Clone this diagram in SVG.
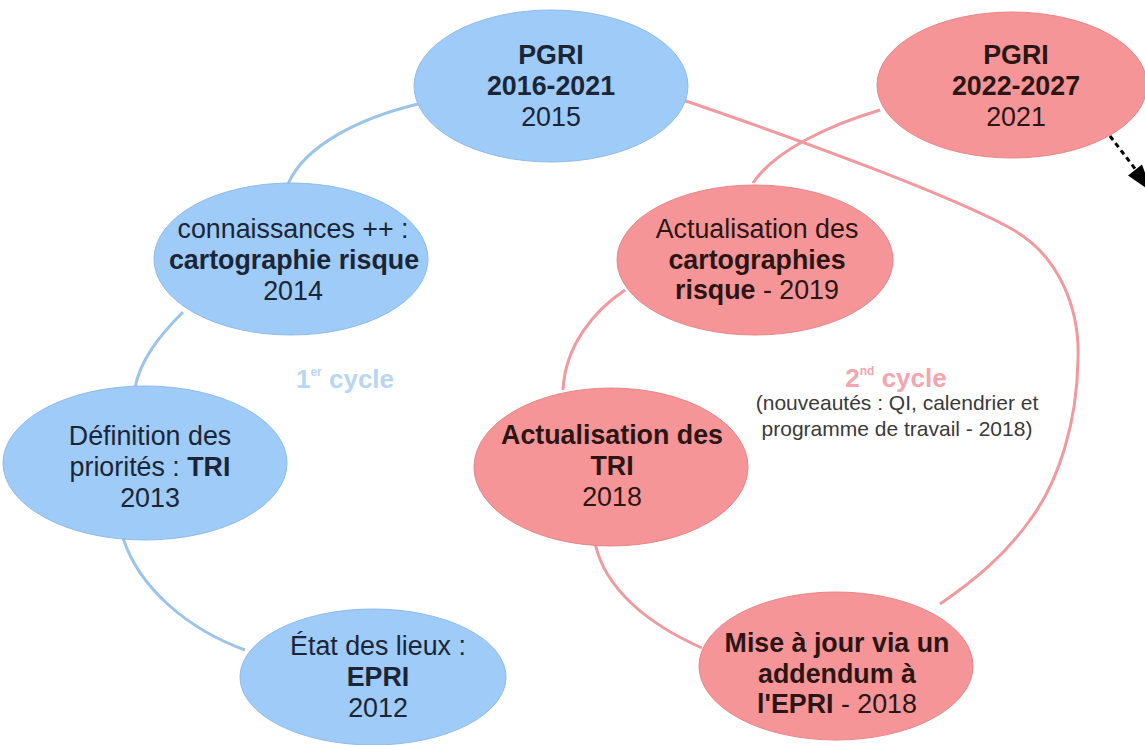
<svg xmlns="http://www.w3.org/2000/svg" width="1145" height="745" viewBox="0 0 1145 745">
<style>
  .blue { fill: #9ecbf8; stroke: #8fbbe8; stroke-width: 1; }
  .red { fill: #f59597; stroke: #e88588; stroke-width: 1; }
  text { font-family: "Liberation Sans", Arial, sans-serif; font-size: 26.8px; text-anchor: middle; }
  .tb { fill: #1b2535; }
  .tr { fill: #2b1515; }
  .b { font-weight: bold; }
  .cb { stroke: #9cc3ea; stroke-width: 3; fill: none; }
  .cr { stroke: #f09aa0; stroke-width: 3; fill: none; }
  .cycle1 { fill: #b8d6f2; font-weight: bold; font-size: 26px; }
  .cycle2 { fill: #f3a6ad; font-weight: bold; font-size: 26px; }
  .note { fill: #3a3a3a; font-size: 21px; }
</style>
<defs>
  <marker id="arr" viewBox="0 0 10 10" refX="9" refY="5" markerWidth="9" markerHeight="9" markerUnits="userSpaceOnUse" orient="auto">
    <path d="M0,0 L10,5 L0,10 z" fill="#000"/>
  </marker>
</defs>
<rect width="1145" height="745" fill="#fff"/>

<g id="connectors">
  <path class="cb" d="M288,184 C305,145 360,118 418,104"/>
  <path class="cb" d="M183,312 C160,335 140,360 135,388"/>
  <path class="cb" d="M123,538 C140,590 190,630 245,650"/>
  <path class="cr" d="M683,100 C800,140 950,195 1010,228 C1060,255 1080,310 1078,360 C1077,420 1060,480 1030,520 C1005,555 975,580 940,604"/>
  <path class="cr" d="M880,110 C830,125 775,150 753,183"/>
  <path class="cr" d="M625,290 C595,310 565,345 563,390"/>
  <path class="cr" d="M595,543 C605,590 650,625 702,648"/>
  <line x1="1110" y1="136" x2="1136" y2="170" stroke="#000" stroke-width="3" stroke-dasharray="5 4"/>
  <polygon points="1152,192 1142,164.5 1128,175.5" fill="#000"/>
</g>

<g id="pgri1">
  <ellipse class="blue" cx="551" cy="86" rx="137" ry="76"/>
  <text class="tb b" x="551" y="64">PGRI</text>
  <text class="tb b" x="551" y="95">2016-2021</text>
  <text class="tb" x="551" y="126">2015</text>
</g>

<g id="pgri2">
  <ellipse class="red" cx="1012" cy="85" rx="135" ry="73"/>
  <text class="tr b" x="1016" y="64">PGRI</text>
  <text class="tr b" x="1016" y="95">2022-2027</text>
  <text class="tr" x="1016" y="126">2021</text>
</g>

<g id="connaissances">
  <ellipse class="blue" cx="291" cy="259" rx="137" ry="76"/>
  <text class="tb" x="293" y="238">connaissances ++ :</text>
  <text class="tb b" x="294" y="269">cartographie risque</text>
  <text class="tb" x="293" y="300">2014</text>
</g>

<g id="definition">
  <ellipse class="blue" cx="145" cy="463" rx="142" ry="77"/>
  <text class="tb" x="150" y="445">Définition des</text>
  <text class="tb" x="150" y="476">priorités : <tspan class="b">TRI</tspan></text>
  <text class="tb" x="150" y="507">2013</text>
</g>

<g id="etat">
  <ellipse class="blue" cx="373" cy="677" rx="133" ry="68"/>
  <text class="tb" x="378" y="655">État des lieux :</text>
  <text class="tb b" x="378" y="686">EPRI</text>
  <text class="tb" x="378" y="717">2012</text>
</g>

<g id="actcarto">
  <ellipse class="red" cx="755" cy="260" rx="138" ry="75"/>
  <text class="tr" x="757" y="238">Actualisation des</text>
  <text class="tr b" x="757" y="269">cartographies</text>
  <text class="tr" x="757" y="299"><tspan class="b">risque</tspan> - 2019</text>
</g>

<g id="acttri">
  <ellipse class="red" cx="611" cy="467" rx="137" ry="79"/>
  <text class="tr b" x="612" y="444">Actualisation des</text>
  <text class="tr b" x="612" y="475">TRI</text>
  <text class="tr" x="612" y="506">2018</text>
</g>

<g id="misejour">
  <ellipse class="red" cx="836" cy="666" rx="137" ry="74"/>
  <text class="tr b" x="837" y="652">Mise à jour via un</text>
  <text class="tr b" x="837" y="683">addendum à</text>
  <text class="tr" x="837" y="713"><tspan class="b">l'EPRI</tspan> - 2018</text>
</g>

<g id="cycle1">
  <text class="cycle1" x="345" y="388">1<tspan font-size="12" dy="-12">er</tspan><tspan dy="12"> cycle</tspan></text>
</g>

<g id="cycle2">
  <text class="cycle2" x="896" y="387">2<tspan font-size="12" dy="-12">nd</tspan><tspan dy="12"> cycle</tspan></text>
  <text class="note" x="897" y="410">(nouveautés : QI, calendrier et</text>
  <text class="note" x="897" y="436">programme de travail - 2018)</text>
</g>
</svg>
